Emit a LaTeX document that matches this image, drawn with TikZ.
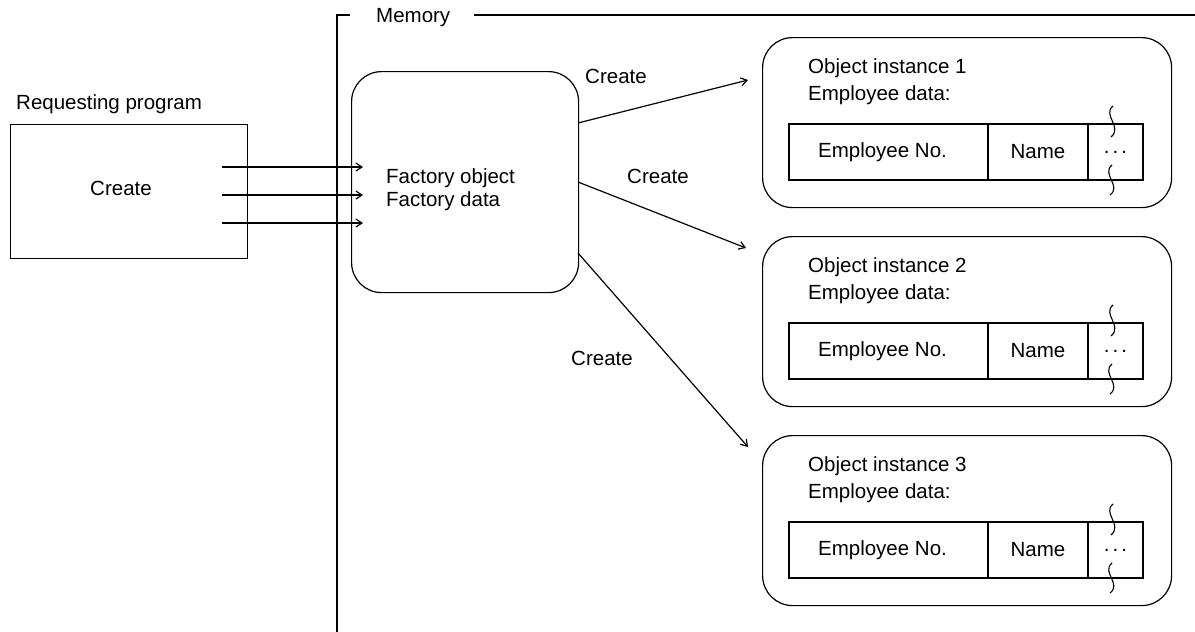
\documentclass[tikz,border=0pt]{standalone}
\usepackage{fontspec}
\setmainfont{Liberation Sans}
\usetikzlibrary{arrows.meta,positioning}

\tikzset{
  txt/.style={font=\fontsize{20.5}{24}\selectfont, inner sep=0pt},
  plainbox/.style={draw, line width=1.2pt, inner sep=0pt},
  roundbox/.style={plainbox, rounded corners=30pt},
  cell/.style={plainbox, outer sep=0pt, minimum height=56pt, font=\fontsize{20.5}{24}\selectfont},
  link/.style={-{Straight Barb[length=6pt,width=8pt]}, line width=1.2pt}
}

\begin{document}
\begin{tikzpicture}[x=1pt, y=-1pt]
  \useasboundingbox (0,0) rectangle (1195,632);

  % Requesting program
  \node[txt, anchor=west] (reqlbl) at (16,104) {Requesting program};
  \node[plainbox, anchor=north west, minimum width=237pt, minimum height=134pt] (req) at (10,124) {};
  \node[txt] (reqcreate) at (121,188) {Create};

  % Memory frame
  \node[txt, anchor=west] (mem) at (376,18) {Memory};
  \coordinate (memtl) at (337,15);
  \coordinate (membl) at (337,632);
  \coordinate (memtr) at (1195,15);
  \draw[line width=1.2pt] ([xshift=-26pt]mem.west |- memtl) -- (memtl) -- (membl);
  \draw[line width=1.2pt] ([xshift=24pt]mem.east |- memtr) -- (memtr);

  % Factory object
  \node[roundbox, anchor=north west, minimum width=227pt, minimum height=221pt] (factory) at (351,71) {};
  \node[txt, anchor=west, align=left] (factorytxt) at (386,190) {Factory object\\[-1pt]Factory data};

  % Calls from the requesting program
  \foreach \i/\y in {1/167,2/195,3/223} {
    \coordinate (call\i) at (222,\y);
    \coordinate (recv\i) at (363,\y);
    \draw[link] (call\i) -- (recv\i);
  }

  % Object instances
  \foreach \i/\t in {1/37,2/236,3/435} {
    \node[roundbox, anchor=north west, minimum width=409pt, minimum height=170pt] (inst\i) at (762,\t) {};
    \node[txt, anchor=west] (title\i) at (808,{\t+31}) {Object instance \i};
    \node[txt, anchor=west] (data\i) at (808,{\t+58}) {Employee data:};
    \node[cell, minimum width=199pt, anchor=north west] (no\i) at (789,{\t+87}) {\hspace{-12pt}Employee No.};
    \node[cell, minimum width=100pt, anchor=west] (name\i) at (no\i.east) {Name};
    \node[cell, minimum width=55pt, anchor=west] (more\i) at (name\i.east) {\raisebox{-2pt}{.\hspace{3pt}.\hspace{3pt}.}};
    % wavy break marks
    \draw[line width=1.1pt] (1113,{\t+69}) .. controls (1102,{\t+78}) and (1123,{\t+90}) .. (1111,{\t+100});
    \draw[line width=1.1pt] (1112,{\t+128}) .. controls (1101,{\t+137}) and (1122,{\t+149}) .. (1110,{\t+158});
  }

  % Create arrows
  \coordinate (out1) at (578,123);
  \coordinate (out2) at (578,182);
  \coordinate (out3) at (578,253);
  \coordinate (in1) at (748,80);
  \coordinate (in2) at (746,248);
  \coordinate (in3) at (748,447);
  \draw[link] (out1) -- (in1);
  \draw[link] (out2) -- (in2);
  \draw[link] (out3) -- (in3);
  \node[txt] (create1) at (616,76) {Create};
  \node[txt] (create2) at (658,176) {Create};
  \node[txt] (create3) at (602,358) {Create};
\end{tikzpicture}
\end{document}
